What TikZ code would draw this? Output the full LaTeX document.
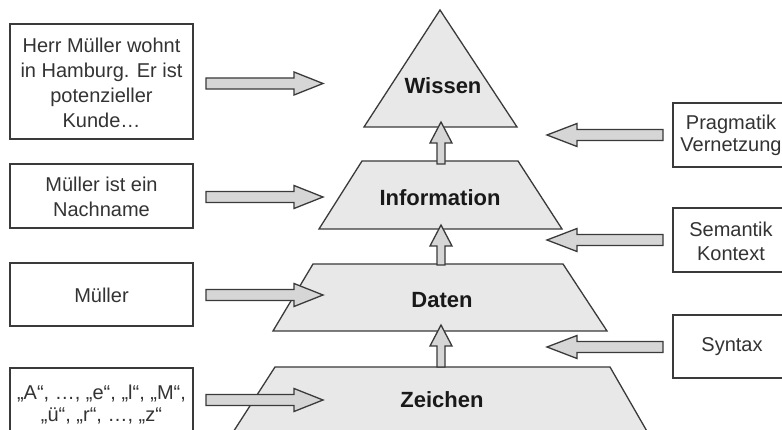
\documentclass[tikz,border=0pt]{standalone}
\usepackage{fontspec}
\setmainfont{Liberation Sans}
\definecolor{linec}{HTML}{3A3A3A}
\definecolor{layerfill}{HTML}{E8E8E8}
\definecolor{arrowfill}{HTML}{D6D6D6}
\definecolor{txt}{HTML}{333333}
\begin{document}
\begin{tikzpicture}[x=1pt,y=-1pt,
  infobox/.style={draw=linec,line width=1.3pt,fill=white},
  layer/.style={draw=linec,line width=1.3pt,fill=layerfill,line join=miter},
  blockarrow/.style={draw=linec,line width=1.3pt,fill=arrowfill,line join=miter},
  boxtext/.style={text=txt,font=\fontsize{20}{25}\selectfont,align=center,inner sep=0pt},
  layertext/.style={text=black!90,font=\fontsize{22}{26}\selectfont\bfseries,inner sep=0pt}]
\clip (0,0) rectangle (782,430);
\fill[white] (0,0) rectangle (782,430);
% pyramid layers
\draw[layer] (440,10) -- (517,127) -- (364,127) -- cycle;
\draw[layer] (362,161) -- (518,161) -- (562,229) -- (319,229) -- cycle;
\draw[layer] (313,264) -- (563,264) -- (607,331) -- (273,331) -- cycle;
\draw[layer] (275,367) -- (610,367) -- (652,440) -- (228,440) -- cycle;
\node[layertext] (wissen) at (443,86) {Wissen};
\node[layertext] (information) at (440,198) {Information};
\node[layertext] (daten) at (442,300) {Daten};
\node[layertext] (zeichen) at (442,400) {Zeichen};
% up arrows
\newcommand\uparr[2]{%
  \draw[blockarrow] (441,#1) -- (452,#1+21) -- (445,#1+21) -- (445,#2) -- (437,#2) -- (437,#1+21) -- (430,#1+21) -- cycle;}
\uparr{122}{164}
\uparr{225}{265}
\uparr{325}{367}
% left boxes
\draw[infobox] (10,24) rectangle (193,139);
\draw[infobox] (10,164) rectangle (193,228);
\draw[infobox] (10,263) rectangle (193,326);
\draw[infobox] (10,368) rectangle (193,440);
\node[boxtext] (b1) at (101.5,83) {Herr Müller wohnt\\in Hamburg. Er ist\\potenzieller\\Kunde…};
\node[boxtext] (b2) at (101.5,197) {Müller ist ein\\Nachname};
\node[boxtext] (b3) at (101.5,295) {Müller};
\node[boxtext,font=\fontsize{20}{22}\selectfont] (b4) at (101.5,405) {„A“, …, „e“, „l“, „M“,\\„ü“, „r“, …, „z“};
% right boxes
\draw[infobox] (673,103) rectangle (790,167);
\draw[infobox] (673,208) rectangle (790,272);
\draw[infobox] (673,315) rectangle (790,378);
\node[boxtext,font=\fontsize{20}{22}\selectfont] (r1) at (731,135) {Pragmatik\\Vernetzung};
\node[boxtext,font=\fontsize{20}{24}\selectfont] (r2) at (731,241) {Semantik\\Kontext};
\node[boxtext] (r3) at (732,347) {Syntax};
% right-pointing arrows
\newcommand\rarr[1]{%
  \draw[blockarrow] (206,#1-5.5) -- (294,#1-5.5) -- (294,#1-11.5) -- (323,#1) -- (294,#1+11.5) -- (294,#1+5.5) -- (206,#1+5.5) -- cycle;}
\rarr{83.5}
\rarr{197}
\rarr{295}
\rarr{400}
% left-pointing arrows
\newcommand\larr[1]{%
  \draw[blockarrow] (663,#1-5.5) -- (577,#1-5.5) -- (577,#1-11.5) -- (547,#1) -- (577,#1+11.5) -- (577,#1+5.5) -- (663,#1+5.5) -- cycle;}
\larr{135}
\larr{240}
\larr{347}
\end{tikzpicture}
\end{document}
